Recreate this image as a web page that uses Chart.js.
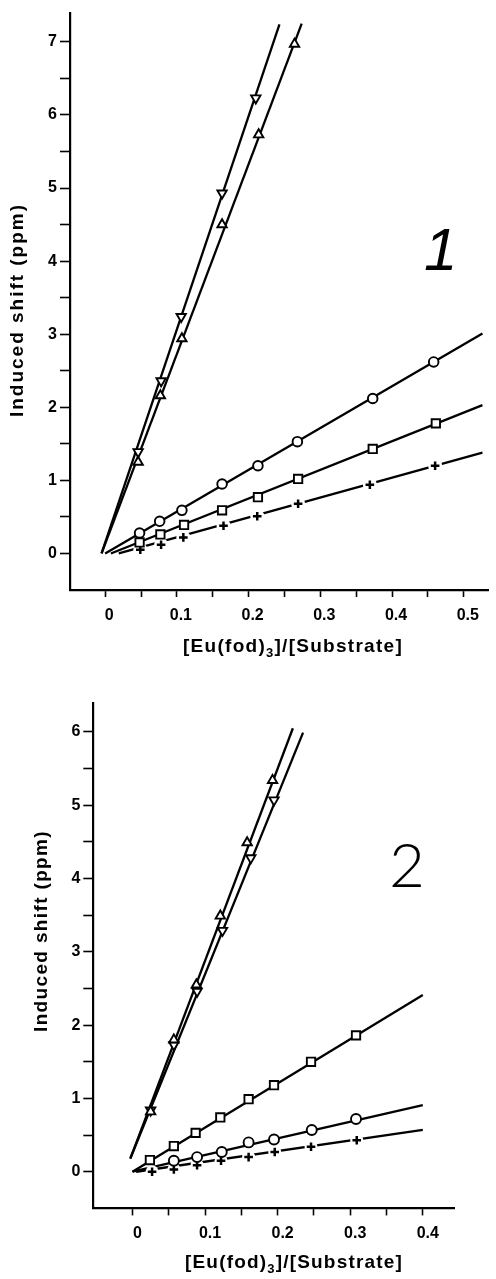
<!DOCTYPE html>
<html><head><meta charset="utf-8">
<script src="https://cdn.jsdelivr.net/npm/chart.js@4/dist/chart.umd.min.js"></script>
<style>
html,body{margin:0;padding:0;background:#fff;}
#c1{position:absolute;left:0;top:0;}
#c2{position:absolute;left:0;top:670px;}
</style></head><body>
<canvas id="c1" width="496" height="670"></canvas>
<canvas id="c2" width="496" height="609"></canvas>
<script>
// ---------- Figure 1 data ----------
const c1DownX = [0.046, 0.078, 0.106, 0.163, 0.210];
const c1DownY = [1.39, 2.36, 3.24, 4.93, 6.23];
const c1UpX   = [0.046, 0.077, 0.107, 0.163, 0.214, 0.264];
const c1UpY   = [1.25, 2.16, 2.94, 4.50, 5.73, 6.97];
const c1CircX = [0.048, 0.076, 0.107, 0.163, 0.213, 0.268, 0.373, 0.458];
const c1CircY = [0.28, 0.44, 0.59, 0.95, 1.20, 1.53, 2.12, 2.62];
const c1SqX   = [0.048, 0.077, 0.110, 0.163, 0.213, 0.269, 0.373, 0.461];
const c1SqY   = [0.15, 0.26, 0.39, 0.59, 0.77, 1.02, 1.43, 1.78];
const c1PlusX = [0.049, 0.078, 0.109, 0.165, 0.212, 0.269, 0.369, 0.460];
const c1PlusY = [0.05, 0.12, 0.22, 0.38, 0.51, 0.68, 0.94, 1.20];
// fitted straight lines (end points)
const c1FitDownX = [-0.005, 0.243], c1FitDownY = [0, 7.24];
const c1FitUpX   = [-0.005, 0.274], c1FitUpY   = [0, 7.25];
const c1FitCircX = [0.000, 0.526],  c1FitCircY = [0, 3.01];
const c1FitSqX   = [0.008, 0.526],  c1FitSqY   = [0, 2.03];
const c1FitPlusX = [0.019, 0.526],  c1FitPlusY = [0, 1.38];
const c1XTicks  = [0, 0.05, 0.1, 0.15, 0.2, 0.25, 0.3, 0.35, 0.4, 0.45, 0.5];
const c1XLabels = ['0', '', '0.1', '', '0.2', '', '0.3', '', '0.4', '', '0.5'];
const c1YTicks  = [0, 0.5, 1, 1.5, 2, 2.5, 3, 3.5, 4, 4.5, 5, 5.5, 6, 6.5, 7];
const c1YLabels = ['0', '', '1', '', '2', '', '3', '', '4', '', '5', '', '6', '', '7'];

// ---------- Figure 2 data ----------
const c2UpX   = [0.025, 0.057, 0.088, 0.121, 0.158, 0.193];
const c2UpY   = [0.82, 1.80, 2.55, 3.49, 4.49, 5.34];
const c2DownX = [0.025, 0.057, 0.089, 0.124, 0.163, 0.195];
const c2DownY = [0.84, 1.73, 2.46, 3.29, 4.28, 5.07];
const c2SqX   = [0.024, 0.057, 0.087, 0.121, 0.160, 0.195, 0.246, 0.308];
const c2SqY   = [0.16, 0.35, 0.53, 0.74, 0.99, 1.18, 1.50, 1.86];
const c2CircX = [0.057, 0.089, 0.123, 0.160, 0.195, 0.247, 0.308];
const c2CircY = [0.15, 0.20, 0.27, 0.40, 0.44, 0.57, 0.72];
const c2PlusX = [0.027, 0.057, 0.089, 0.122, 0.160, 0.196, 0.246, 0.309];
const c2PlusY = [0.00, 0.03, 0.09, 0.15, 0.20, 0.27, 0.34, 0.43];
const c2FitUpX   = [-0.003, 0.221], c2FitUpY   = [0.18, 6.05];
const c2FitDownX = [-0.003, 0.235], c2FitDownY = [0.18, 5.99];
const c2FitSqX   = [0.000, 0.400],  c2FitSqY   = [0, 2.41];
const c2FitCircX = [0.000, 0.400],  c2FitCircY = [0, 0.91];
const c2FitPlusX = [0.005, 0.400],  c2FitPlusY = [0, 0.57];
const c2XTicks  = [0, 0.05, 0.1, 0.15, 0.2, 0.25, 0.3, 0.35, 0.4];
const c2XLabels = ['0', '', '0.1', '', '0.2', '', '0.3', '', '0.4'];
const c2YTicks  = [0, 0.5, 1, 1.5, 2, 2.5, 3, 3.5, 4, 4.5, 5, 5.5, 6];
const c2YLabels = ['0', '', '1', '', '2', '', '3', '', '4', '', '5', '', '6'];

const xTitleParts = [['[Eu(fod)', false], ['3', true], [']/[Substrate]', false]];
const yTitle = 'Induced shift (ppm)';

// ---------- helpers ----------
const pts = (xs, ys) => xs.map((x, i) => ({x: x, y: ys[i]}));
function fitLine(xs, ys) {
  return {type: 'line', data: pts(xs, ys), borderColor: '#000', borderWidth: 2.3,
          pointRadius: 0, showLine: true, fill: false, order: 5};
}
function markers(xs, ys, style, r, rot) {
  return {type: 'scatter', data: pts(xs, ys), pointStyle: style, pointRadius: r,
          pointRotation: rot || 0, pointBackgroundColor: '#fff', pointBorderColor: '#000',
          pointBorderWidth: style === 'cross' ? 2.5 : 1.9, showLine: false, order: 1};
}
function halo(xs, ys, r) {
  return {type: 'scatter', data: pts(xs, ys), pointStyle: 'circle', pointRadius: r,
          pointBackgroundColor: '#fff', pointBorderWidth: 0, pointBorderColor: '#fff',
          showLine: false, order: 2};
}
const BOLD = '"Liberation Sans", Arial, Helvetica, sans-serif';

function spacedText(ctx, text, x, y, target, font) {
  ctx.font = font;
  ctx.letterSpacing = '0px';
  const w = ctx.measureText(text).width;
  const sp = (target - w) / text.length;
  ctx.letterSpacing = sp + 'px';
  ctx.fillText(text, x, y);
  ctx.letterSpacing = '0px';
}

function decoPlugin(cfg) {
  return {
    id: 'deco',
    afterDraw(chart) {
      const ctx = chart.ctx;
      ctx.save();
      ctx.fillStyle = '#000';
      ctx.textBaseline = 'alphabetic';
      ctx.textAlign = 'left';
      // x axis title with subscript
      const mainF = 'bold 19px ' + BOLD, subF = 'bold 13px ' + BOLD;
      let total = 0; const ws = [];
      for (const [t, sub] of xTitleParts) {
        ctx.font = sub ? subF : mainF; ctx.letterSpacing = '0px';
        const w = ctx.measureText(t).width; ws.push(w); total += w;
      }
      const nChars = xTitleParts.reduce((a, p) => a + p[0].length, 0);
      const sp = (cfg.xTitleW - total) / nChars;
      let x = cfg.xTitleX;
      xTitleParts.forEach(([t, sub], i) => {
        ctx.font = sub ? subF : mainF;
        ctx.letterSpacing = sp + 'px';
        ctx.fillText(t, x, cfg.xTitleY + (sub ? 5 : 0));
        x += ws[i] + sp * t.length;
      });
      ctx.letterSpacing = '0px';
      // y axis title
      ctx.save();
      ctx.translate(cfg.yTitleX, cfg.yTitleY);
      ctx.rotate(-Math.PI / 2);
      ctx.textAlign = 'center';
      ctx.textBaseline = 'middle';
      spacedText(ctx, yTitle, 0, 0, cfg.yTitleW, 'bold 19px ' + BOLD);
      ctx.restore();
      // compound number
      ctx.textAlign = 'left';
      ctx.textBaseline = 'alphabetic';
      ctx.font = cfg.numFont;
      ctx.fillText(cfg.num, cfg.numX, cfg.numY);
      ctx.restore();
    }
  };
}

function axisOpts(min, max, ticks, labels, fixed, isX, labelOffset) {
  return {
    type: 'linear', min: min, max: max,
    afterBuildTicks: s => { s.ticks = ticks.map(v => ({value: v})); },
    afterFit: s => { if (isX) s.height = fixed; else s.width = fixed; },
    grid: {display: true, drawOnChartArea: false, drawTicks: true,
           tickLength: isX ? 7 : 10, tickColor: '#000', tickWidth: 1.6},
    border: {display: true, color: '#000', width: 2.2},
    ticks: {autoSkip: false, maxRotation: 0, minRotation: 0, color: '#000',
            font: {family: BOLD, size: 16, weight: 'bold'},
            padding: isX ? 9 : 3, labelOffset: labelOffset || 0,
            callback: (v, i) => labels[i]}
  };
}

function makeChart(id, sets, opts, deco) {
  return new Chart(document.getElementById(id), {
    type: 'scatter',
    data: {datasets: sets},
    options: {
      responsive: false, animation: false,
      layout: {padding: opts.padding},
      plugins: {legend: {display: false}, tooltip: {enabled: false}},
      scales: {x: opts.x, y: opts.y}
    },
    plugins: [decoPlugin(deco)]
  });
}

// ---------- Figure 1 ----------
makeChart('c1', [
  fitLine(c1FitDownX, c1FitDownY), fitLine(c1FitUpX, c1FitUpY),
  fitLine(c1FitCircX, c1FitCircY), fitLine(c1FitSqX, c1FitSqY),
  fitLine(c1FitPlusX, c1FitPlusY),
  halo(c1PlusX, c1PlusY, 7),
  markers(c1DownX, c1DownY, 'triangle', 5.4, 180),
  markers(c1UpX, c1UpY, 'triangle', 5.4, 0),
  markers(c1CircX, c1CircY, 'circle', 4.8),
  markers(c1SqX, c1SqY, 'rect', 5.9),
  markers(c1PlusX, c1PlusY, 'cross', 4.3)
], {
  padding: {left: 0, top: 12, right: 0, bottom: 0},
  x: axisOpts(-0.049, 0.534, c1XTicks, c1XLabels, 80, true, 4),
  y: axisOpts(-0.5, 7.4, c1YTicks, c1YLabels, 70, false)
}, {xTitleX: 183, xTitleY: 652, xTitleW: 220, yTitleX: 18, yTitleY: 310, yTitleW: 214,
    num: '1', numFont: 'italic 60px ' + BOLD, numX: 424, numY: 270});

// ---------- Figure 2 ----------
makeChart('c2', [
  fitLine(c2FitUpX, c2FitUpY), fitLine(c2FitDownX, c2FitDownY),
  fitLine(c2FitSqX, c2FitSqY), fitLine(c2FitCircX, c2FitCircY),
  fitLine(c2FitPlusX, c2FitPlusY),
  halo(c2PlusX, c2PlusY, 6.5),
  markers(c2UpX, c2UpY, 'triangle', 5.4, 0),
  markers(c2DownX, c2DownY, 'triangle', 5.4, 180),
  markers(c2SqX, c2SqY, 'rect', 5.9),
  markers(c2CircX, c2CircY, 'circle', 5),
  markers(c2PlusX, c2PlusY, 'cross', 4.3)
], {
  padding: {left: 23.3, top: 33.3, right: 42, bottom: 0},
  x: axisOpts(-0.054, 0.443, c2XTicks, c2XLabels, 70.6, true, 5),
  y: axisOpts(-0.5, 6.39, c2YTicks, c2YLabels, 70, false)
}, {xTitleX: 185, xTitleY: 598, xTitleW: 218, yTitleX: 42, yTitleY: 261, yTitleW: 202,
    num: '2', numFont: '300 62px Lato, "Liberation Sans", sans-serif', numX: 389, numY: 217});
</script>
</body></html>
